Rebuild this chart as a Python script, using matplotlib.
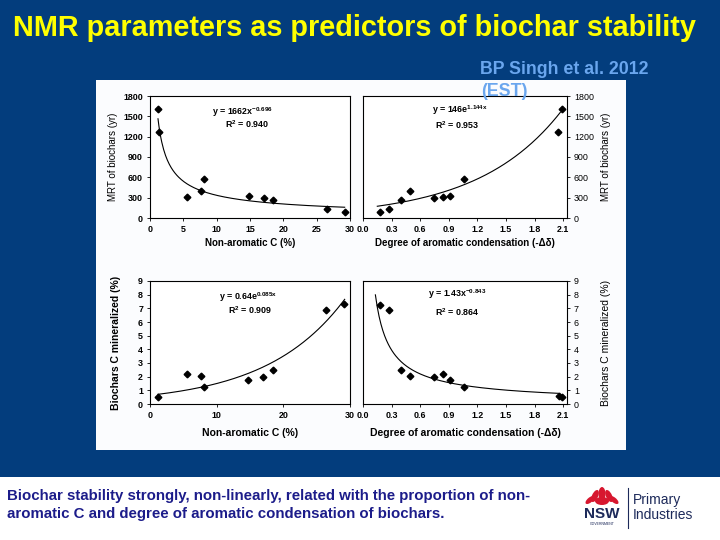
import numpy as np
import matplotlib
matplotlib.use('Agg')
import matplotlib.pyplot as plt
from matplotlib.patches import Rectangle, Ellipse

plt.rcParams['font.family'] = ['Liberation Sans', 'DejaVu Sans']
plt.rcParams['mathtext.default'] = 'regular'

# 数据
non_aromatic = [1.25, 1.35, 5.6, 7.65, 8.05, 14.85, 17.1, 18.4, 26.55, 29.25]
mrt_vs_nonarom = [1614, 1262, 308, 401, 572, 328, 294, 269, 132, 88]

condensation = [0.18, 0.27, 0.40, 0.49, 0.74, 0.84, 0.91, 1.06, 2.05, 2.09]
mrt_vs_cond = [88, 132, 269, 401, 294, 308, 328, 572, 1262, 1614]

non_aromatic_b = [1.25, 5.6, 7.65, 8.05, 14.75, 17.0, 18.4, 26.4, 29.05]
mineral_vs_nonarom = [0.49, 2.21, 2.02, 1.27, 1.75, 1.95, 2.48, 6.89, 7.30]

condensation_b = [0.18, 0.27, 0.40, 0.49, 0.74, 0.84, 0.91, 1.06, 2.06, 2.09]
mineral_vs_cond = [7.25, 6.89, 2.46, 2.02, 1.95, 2.21, 1.75, 1.27, 0.56, 0.49]

# 拟合参数（图中公式）
fit_tl = (1662, -0.696)   # 幂函数
fit_tr = (146, 1.144)     # 指数函数
fit_bl = (0.64, 0.085)    # 指数函数
fit_br = (1.43, -0.843)   # 幂函数

BLUE = '#033d7d'
W, H = 720, 540


def px_axes(fig, left, right, top, bottom):
    return fig.add_axes([left / W, (H - bottom) / H, (right - left) / W, (bottom - top) / H])


def style_axes(ax, right_side=False):
    ax.set_facecolor('white')
    for s in ax.spines.values():
        s.set_linewidth(0.8)
    ax.tick_params(direction='out', length=2, width=0.6, labelsize=6.4, pad=3)
    for lab in ax.get_xticklabels() + ax.get_yticklabels():
        lab.set_fontweight('bold')
    if right_side:
        ax.yaxis.tick_right()
        ax.yaxis.set_label_position('right')


fig = plt.figure(figsize=(7.2, 5.4), dpi=100)
fig.patch.set_facecolor('white')

# 背景
fig.patches.append(Rectangle((0, (H - 477) / H), 1, 477 / H, transform=fig.transFigure,
                             facecolor=BLUE, edgecolor='none', zorder=-2))
fig.patches.append(Rectangle((96 / W, (H - 450) / H), 530 / W, 370 / H, transform=fig.transFigure,
                             facecolor='#fbfcfe', edgecolor='none', zorder=-1))

mk = dict(marker='D', color='black', markersize=3.4, linestyle='none')

# 左上
ax1 = px_axes(fig, 150, 350, 96, 218)
ax1.plot(non_aromatic, mrt_vs_nonarom, **mk)
xs = np.linspace(1.2, 29.2, 200)
ax1.plot(xs, fit_tl[0] * xs ** fit_tl[1], color='black', lw=0.8)
ax1.set_xlim(0, 30)
ax1.set_ylim(0, 1800)
ax1.set_xticks(range(0, 31, 5))
ax1.set_yticks(range(0, 1801, 300))
ax1.set_xlabel('Non-aromatic C (%)', fontsize=7, fontweight='bold', labelpad=3)
ax1.set_ylabel('MRT of biochars (yr)', fontsize=7, labelpad=4)
style_axes(ax1)
ax1.text(0.46, 0.87, 'y = 1662x$^{-0.696}$', transform=ax1.transAxes, fontsize=6.4,
         fontweight='bold', ha='center', va='center')
ax1.text(0.485, 0.77, 'R$^{2}$ = 0.940', transform=ax1.transAxes, fontsize=6.4,
         fontweight='bold', ha='center', va='center')

# 右上
ax2 = px_axes(fig, 363, 567, 96, 218)
ax2.plot(condensation, mrt_vs_cond, **mk)
xs = np.linspace(0.15, 2.07, 200)
ax2.plot(xs, fit_tr[0] * np.exp(fit_tr[1] * xs), color='black', lw=0.8)
ax2.set_xlim(0, 2.14)
ax2.set_ylim(0, 1800)
ax2.set_xticks(np.arange(0, 2.11, 0.3))
ax2.set_xticklabels(['%.1f' % v for v in np.arange(0, 2.11, 0.3)])
ax2.set_yticks(range(0, 1801, 300))
ax2.set_xlabel('Degree of aromatic condensation (-Δδ)', fontsize=7, fontweight='bold', labelpad=3)
ax2.set_ylabel('MRT of biochars (yr)', fontsize=7, labelpad=5)
style_axes(ax2, right_side=True)
ax2.text(0.475, 0.88, 'y = 146e$^{1.144x}$', transform=ax2.transAxes, fontsize=6.4,
         fontweight='bold', ha='center', va='center')
ax2.text(0.46, 0.76, 'R$^{2}$ = 0.953', transform=ax2.transAxes, fontsize=6.4,
         fontweight='bold', ha='center', va='center')

# 左下
ax3 = px_axes(fig, 150, 350, 281, 404)
ax3.plot(non_aromatic_b, mineral_vs_nonarom, **mk)
xs = np.linspace(1.2, 29.2, 200)
ax3.plot(xs, fit_bl[0] * np.exp(fit_bl[1] * xs), color='black', lw=0.8)
ax3.set_xlim(0, 30)
ax3.set_ylim(0, 9)
ax3.set_xticks([0, 10, 20, 30])
ax3.set_yticks(range(0, 10))
ax3.set_xlabel('Non-aromatic C (%)', fontsize=7.5, fontweight='bold', labelpad=6)
ax3.set_ylabel('Biochars C mineralized (%)', fontsize=7.5, fontweight='bold', labelpad=12)
style_axes(ax3)
ax3.text(0.49, 0.87, 'y = 0.64e$^{0.085x}$', transform=ax3.transAxes, fontsize=6.4,
         fontweight='bold', ha='center', va='center')
ax3.text(0.5, 0.76, 'R$^{2}$ = 0.909', transform=ax3.transAxes, fontsize=6.4,
         fontweight='bold', ha='center', va='center')

# 右下
ax4 = px_axes(fig, 363, 567, 281, 404)
ax4.plot(condensation_b, mineral_vs_cond, **mk)
xs = np.linspace(0.13, 2.05, 200)
ax4.plot(xs, fit_br[0] * xs ** fit_br[1], color='black', lw=0.8)
ax4.set_xlim(0, 2.14)
ax4.set_ylim(0, 9)
ax4.set_xticks(np.arange(0, 2.11, 0.3))
ax4.set_xticklabels(['%.1f' % v for v in np.arange(0, 2.11, 0.3)])
ax4.set_yticks(range(0, 10))
ax4.set_xlabel('Degree of aromatic condensation (-Δδ)', fontsize=7.5, fontweight='bold', labelpad=6)
ax4.set_ylabel('Biochars C mineralized (%)', fontsize=7.5, labelpad=16)
style_axes(ax4, right_side=True)
ax4.text(0.46, 0.89, 'y = 1.43x$^{-0.843}$', transform=ax4.transAxes, fontsize=6.4,
         fontweight='bold', ha='center', va='center')
ax4.text(0.46, 0.75, 'R$^{2}$ = 0.864', transform=ax4.transAxes, fontsize=6.4,
         fontweight='bold', ha='center', va='center')

# 标题和文字
fig.text(354 / W, (H - 28) / H, 'NMR parameters as predictors of biochar stability',
         fontsize=20.8, fontweight='bold', color='#ffff00', ha='center', va='center')
fig.text(480 / W, (H - 70) / H, 'BP Singh et al. 2012', fontsize=12.8, fontweight='bold',
         color='#6aa6ee', ha='left', va='center')
fig.text(481 / W, (H - 91) / H, '(EST)', fontsize=12.8, fontweight='bold',
         color='#6aa6ee', ha='left', va='center')
fig.text(7 / W, (H - 505) / H,
         'Biochar stability strongly, non-linearly, related with the proportion of non-\n'
         'aromatic C and degree of aromatic condensation of biochars.',
         fontsize=10.8, fontweight='bold', color='#1c1c8a', ha='left', va='center',
         linespacing=1.35)

# 标志（简化）
logo = fig.add_axes([580 / W, (H - 532) / H, 140 / W, 48 / H])
logo.set_xlim(0, 140)
logo.set_ylim(48, 0)
logo.axis('off')
for cx, cy, w, h, ang in [(22, 10, 7, 14, 0), (15, 12, 6, 13, 25), (29, 12, 6, 13, -25),
                          (10, 16, 5, 11, 50), (34, 16, 5, 11, -50), (22, 17, 14, 8, 0)]:
    logo.add_patch(Ellipse((cx, cy), w, h, angle=ang, facecolor='#d7172f', edgecolor='none'))
logo.text(22, 30, 'NSW', fontsize=11, fontweight='bold', color='#1d2a5a', ha='center', va='center')
logo.text(22, 40, 'GOVERNMENT', fontsize=2.5, color='#1d2a5a', ha='center', va='center')
logo.plot([48, 48], [4, 44], color='#1d2a5a', lw=0.8)
logo.text(53, 16, 'Primary', fontsize=10, color='#1d2a5a', ha='left', va='center')
logo.text(53, 31, 'Industries', fontsize=10, color='#1d2a5a', ha='left', va='center')

fig.savefig('out.png', dpi=100, facecolor=fig.get_facecolor())
